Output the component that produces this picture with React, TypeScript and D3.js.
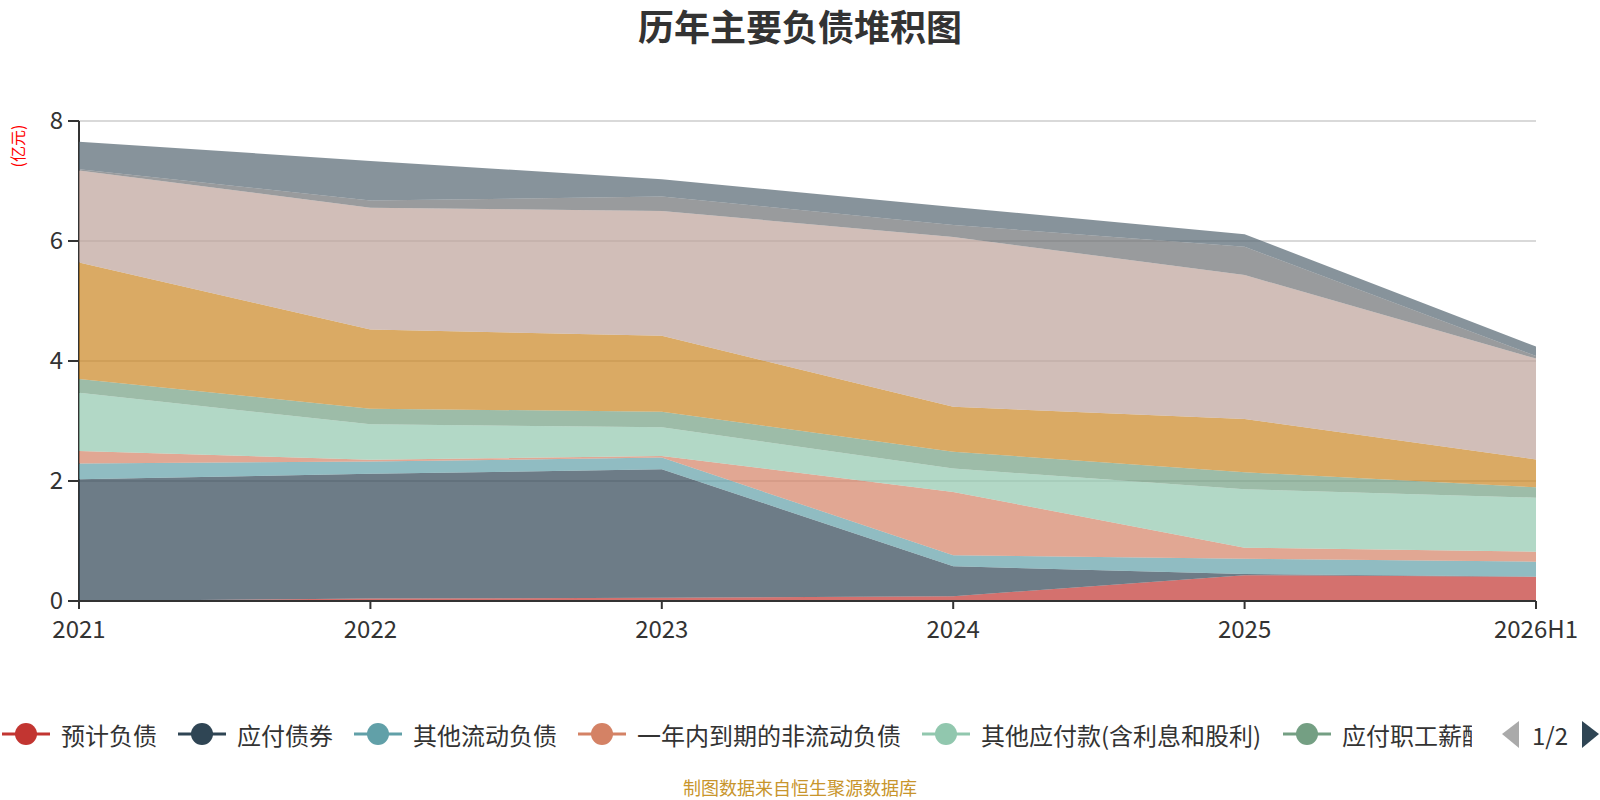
import * as d3 from 'd3';

const years = ['2021', '2022', '2023', '2024', '2025', '2026H1'];

const seriesNames = [
    '预计负债',
    '应付债券',
    '其他流动负债',
    '一年内到期的非流动负债',
    '其他应付款(含利息和股利)',
    '应付职工薪酬',
    '应交税费',
    '应付账款',
    '合同负债',
    '短期借款',
];

// 亿元, bottom to top
const yujiFuzhai = [0.0, 0.04, 0.055, 0.08, 0.43, 0.405];
const yingfuZhaiquan = [2.03, 2.08, 2.14, 0.5, 0.02, 0.0];
const qitaLiudong = [0.26, 0.205, 0.195, 0.184, 0.256, 0.25];
const yinianDaoqi = [0.21, 0.03, 0.027, 1.053, 0.183, 0.167];
const qitaYingfu = [0.97, 0.59, 0.478, 0.39, 0.973, 0.9];
const zhigongXinchou = [0.23, 0.26, 0.26, 0.28, 0.283, 0.173];
const yingjiaoShuifei = [1.94, 1.32, 1.265, 0.75, 0.888, 0.465];
const yingfuZhangkuan = [1.535, 2.03, 2.08, 2.83, 2.4, 1.68];
const hetongFuzhai = [0.02, 0.12, 0.24, 0.2, 0.47, 0.043];
const duanqiJiekuan = [0.46, 0.66, 0.29, 0.3, 0.21, 0.157];

const seriesValues = [
    yujiFuzhai,
    yingfuZhaiquan,
    qitaLiudong,
    yinianDaoqi,
    qitaYingfu,
    zhigongXinchou,
    yingjiaoShuifei,
    yingfuZhangkuan,
    hetongFuzhai,
    duanqiJiekuan,
];

const yTicks = [0, 2, 4, 6, 8];

const colors = ['#c23531', '#2f4554', '#61a0a8', '#d48265', '#91c7ae', '#749f83', '#ca8622', '#bda29a', '#6e7074', '#546570'];

const FONT = '"Noto Sans CJK SC", "Microsoft YaHei", sans-serif';

// rough text width for the legend (24px font)
function textWidth(s: string) {
    let w = 0;
    for (const ch of s) w += /[\u4e00-\u9fff]/.test(ch) ? 24 : 8.5;
    return w;
}

export default function App() {
    const width = 1600;
    const height = 800;
    const margin = { top: 121, right: 64, bottom: 199, left: 79 };

    const x = d3
        .scalePoint<string>()
        .domain(years)
        .range([margin.left, width - margin.right]);

    const y = d3
        .scaleLinear()
        .domain([0, 8])
        .range([height - margin.bottom, margin.top]);

    const table = years.map((yr, i) => {
        const row: Record<string, number | string> = { year: yr };
        seriesNames.forEach((n, k) => (row[n] = seriesValues[k][i]));
        return row;
    });

    const stacked = d3.stack<any>().keys(seriesNames)(table);

    const area = d3
        .area<any>()
        .x((d) => x(d.data.year)!)
        .y0((d) => y(d[0]))
        .y1((d) => y(d[1]));

    // legend layout (first page: 6 items)
    const legendItems: { name: string; color: string; x: number }[] = [];
    let lx = 2;
    seriesNames.slice(0, 6).forEach((n, i) => {
        legendItems.push({ name: n, color: colors[i], x: lx });
        lx += 59 + textWidth(n) + 21;
    });
    const legendY = 734;

    return (
        <svg width={width} height={height} style={{ display: 'block', position: 'absolute', left: 0, top: 0 }} fontFamily={FONT}>
            <rect width={width} height={height} fill="#fff" />

            <text x={800} y={25} textAnchor="middle" dominantBaseline="central" fontSize={36} fontWeight="bold" fill="#333">
                历年主要负债堆积图
            </text>

            <text transform={`translate(17,146) rotate(-90)`} textAnchor="middle" dominantBaseline="central" fontSize={16} fill="#ff0000">
                (亿元)
            </text>

            {/* grid */}
            {yTicks
                .filter((t) => t > 0)
                .map((t) => (
                    <line key={t} x1={margin.left} x2={width - margin.right} y1={y(t)} y2={y(t)} stroke="#ccc" strokeWidth={1.5} />
                ))}

            {/* y axis */}
            <line x1={margin.left} x2={margin.left} y1={margin.top} y2={y(0)} stroke="#333" strokeWidth={2} />
            {yTicks.map((t) => (
                <g key={t}>
                    <line x1={margin.left - 11} x2={margin.left} y1={y(t)} y2={y(t)} stroke="#333" strokeWidth={2} />
                    <text x={margin.left - 16} y={y(t) - 3} textAnchor="end" dominantBaseline="central" fontSize={24} fill="#333">
                        {t}
                    </text>
                </g>
            ))}

            {/* areas */}
            {stacked.map((s, i) => (
                <path key={s.key} d={area(s)!} fill={colors[i]} fillOpacity={0.7} />
            ))}

            {/* x axis */}
            <line x1={margin.left} x2={width - margin.right} y1={y(0)} y2={y(0)} stroke="#333" strokeWidth={2} />
            {years.map((yr) => (
                <g key={yr}>
                    <line x1={x(yr)} x2={x(yr)} y1={y(0)} y2={y(0) + 8} stroke="#333" strokeWidth={2} />
                    <text x={x(yr)} y={627} textAnchor="middle" dominantBaseline="central" fontSize={24} fill="#333">
                        {yr}
                    </text>
                </g>
            ))}

            {/* legend */}
            <clipPath id="legendClip">
                <rect x={0} y={700} width={1472} height={70} />
            </clipPath>
            <g clipPath="url(#legendClip)">
                {legendItems.map((it) => (
                    <g key={it.name} transform={`translate(${it.x},${legendY})`}>
                        <line x1={0} x2={48} y1={0} y2={0} stroke={it.color} strokeWidth={3} />
                        <circle cx={24} cy={0} r={11} fill={it.color} />
                        <text x={59} y={0} dominantBaseline="central" fontSize={24} fill="#333">
                            {it.name}
                        </text>
                    </g>
                ))}
            </g>
            <path d="M1519,721 L1502,734 L1519,748 Z" fill="#aaa" />
            <text x={1550} y={legendY} textAnchor="middle" dominantBaseline="central" fontSize={24} fill="#333">
                1/2
            </text>
            <path d="M1582,721 L1599,734 L1582,748 Z" fill="#2f4554" />

            <text x={800} y={787} textAnchor="middle" dominantBaseline="central" fontSize={18} fill="#c8952c">
                制图数据来自恒生聚源数据库
            </text>
        </svg>
    );
}
